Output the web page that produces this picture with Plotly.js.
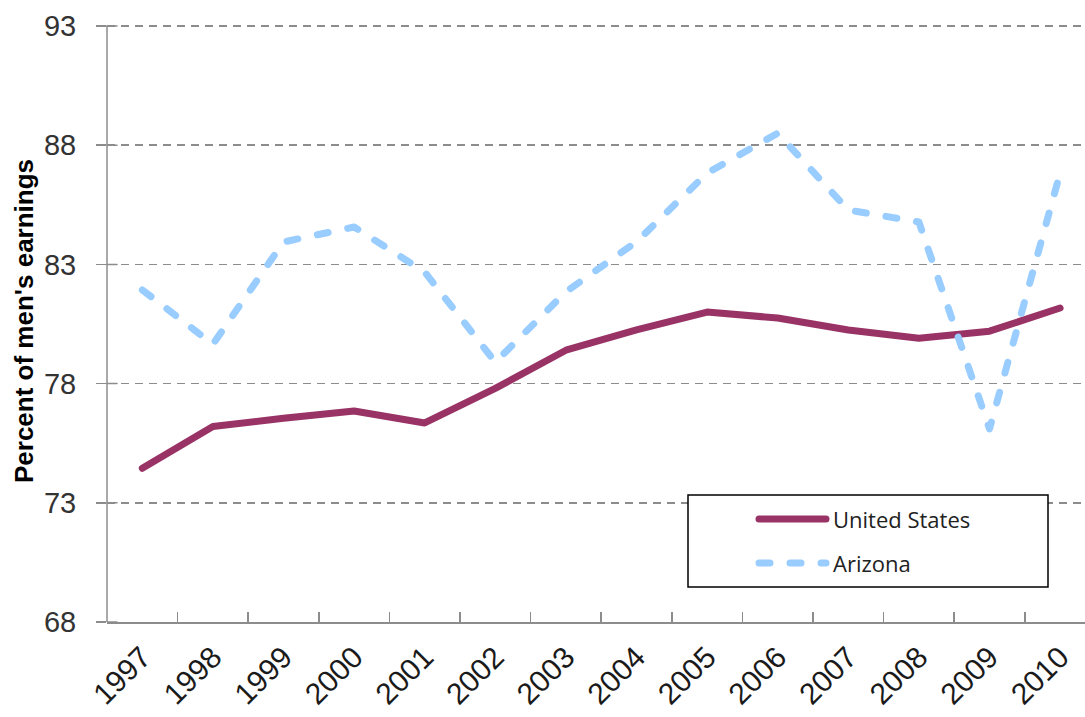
<!DOCTYPE html>
<html>
<head>
<meta charset="utf-8">
<script src="https://cdn.plot.ly/plotly-3.0.1.min.js"></script>
<style>html,body{margin:0;padding:0;background:#fff}#chart{width:1085px;height:717px}</style>
</head>
<body>
<div id="chart"></div>
<script>
const years = ['1997','1998','1999','2000','2001','2002','2003','2004','2005','2006','2007','2008','2009','2010'];
const unitedStates = [74.45, 76.2, 76.55, 76.85, 76.35, 77.8, 79.4, 80.25, 81.0, 80.75, 80.25, 79.9, 80.2, 81.17];
const arizona = [81.93, 79.65, 83.94, 84.57, 82.68, 78.9, 81.85, 83.95, 86.83, 88.5, 85.28, 84.78, 76.1, 86.83];
const seriesNames = ['United States', 'Arizona'];
const yTicks = [68, 73, 78, 83, 88, 93];
const yTitle = "Percent of men's earnings";

const usColor = '#993366';
const azColor = '#99CCFF';
const axisGray = '#8c8c8c';

// plot area in pixels: left 107, right 1085, top 20 (93 sits at ~26), bottom 622
const catWidth = 70.6;
const plotW = 978;
const plotH = 602;
const xMax = -0.5 + plotW / catWidth;
const yTop = 68 + 25 * plotH / 596;

const traces = [
  {x: years, y: unitedStates, name: seriesNames[0], type: 'scatter', mode: 'lines',
   line: {color: usColor, width: 7}, showlegend: false, hoverinfo: 'x+y'},
  {x: years, y: arizona, name: seriesNames[1], type: 'scatter', mode: 'lines',
   line: {color: azColor, width: 7, dash: '11px,20px'}, showlegend: false, hoverinfo: 'x+y'}
];

function px2x(p){ return (p - 107) / plotW; }
function px2y(p){ return (622 - p) / plotH; }

const shapes = [
  // y-axis line from the lowest to the highest tick
  {type: 'line', xref: 'paper', yref: 'y', x0: 0, x1: 0, y0: yTicks[0], y1: yTicks[yTicks.length - 1],
   line: {color: axisGray, width: 1.5}, layer: 'above'},
  {type: 'rect', xref: 'paper', yref: 'paper', x0: px2x(688), x1: px2x(1048), y0: px2y(587), y1: px2y(495),
   line: {color: '#000', width: 1.5}, fillcolor: '#fff', layer: 'above'},
  {type: 'line', xref: 'paper', yref: 'paper', x0: px2x(759), x1: px2x(826), y0: px2y(519), y1: px2y(519),
   line: {color: usColor, width: 7}, layer: 'above'},
  {type: 'line', xref: 'paper', yref: 'paper', x0: px2x(759), x1: px2x(826), y0: px2y(563), y1: px2y(563),
   line: {color: azColor, width: 7, dash: '11px,20px'}, layer: 'above'}
];
// inside half of the crossing y-axis tick marks
yTicks.forEach(function(v){
  shapes.push({type: 'line', xref: 'paper', yref: 'y', x0: 0, x1: 10 / plotW, y0: v, y1: v,
    line: {color: axisGray, width: 1.5}, layer: 'above'});
});

const layout = {
  width: 1085, height: 717,
  margin: {l: 107, r: 0, t: 20, b: 95},
  paper_bgcolor: '#fff', plot_bgcolor: '#fff',
  showlegend: false,
  font: {family: 'Liberation Sans, Arial, sans-serif', color: '#222'},
  xaxis: {
    type: 'category', range: [-0.5, xMax],
    tickson: 'boundaries', ticks: 'inside', ticklen: 10, tickwidth: 1.5, tickcolor: axisGray,
    showline: true, linecolor: axisGray, linewidth: 1.5,
    showgrid: false, zeroline: false,
    tickangle: -45, ticklabelstandoff: 4,
    tickfont: {size: 30, color: '#1a1a1a', family: 'Liberation Sans, Arial, sans-serif'},
    fixedrange: true
  },
  yaxis: {
    range: [68, yTop], tickvals: yTicks, ticktext: yTicks.map(String),
    ticks: 'outside', ticklen: 10, tickwidth: 1.5, tickcolor: axisGray,
    ticklabelstandoff: 14,
    showline: false,
    showgrid: true, gridcolor: axisGray, gridwidth: 1.5, griddash: '8px,6px',
    zeroline: false,
    tickfont: {size: 29, color: '#333', family: 'Liberation Sans, Arial, sans-serif'},
    title: {text: yTitle, font: {size: 26, color: '#000', family: 'Liberation Sans, Arial, sans-serif', weight: 'bold'}, standoff: 2},
    fixedrange: true
  },
  shapes: shapes,
  annotations: [
    {xref: 'paper', yref: 'paper', x: px2x(831), y: px2y(519), xanchor: 'left', yanchor: 'middle',
     text: seriesNames[0], showarrow: false, font: {family: 'Open Sans, sans-serif', size: 22, color: '#222'}},
    {xref: 'paper', yref: 'paper', x: px2x(831), y: px2y(563), xanchor: 'left', yanchor: 'middle',
     text: seriesNames[1], showarrow: false, font: {family: 'Open Sans, sans-serif', size: 22, color: '#222'}}
  ]
};

Plotly.newPlot('chart', traces, layout, {displayModeBar: false, staticPlot: true}).then(function(gd){
  gd.querySelectorAll('.scatterlayer path.js-line').forEach(function(p){
    p.style.strokeLinecap = 'round';
    p.style.strokeLinejoin = 'round';
  });
  gd.querySelectorAll('.shapelayer path').forEach(function(p){
    p.style.strokeLinecap = 'round';
  });
});
</script>
</body>
</html>
